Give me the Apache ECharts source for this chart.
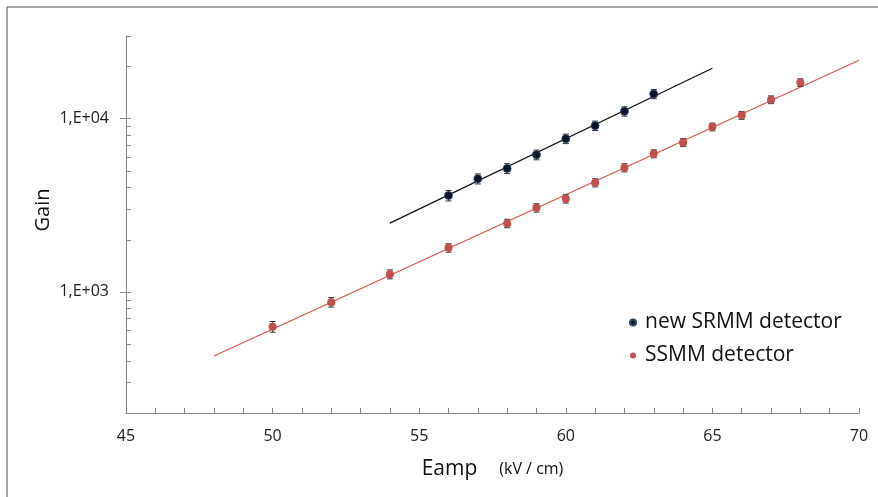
<!DOCTYPE html>
<html>
<head>
<meta charset="utf-8">
<title>Gain vs Eamp</title>
<script src="https://cdn.jsdelivr.net/npm/echarts@6/dist/echarts.min.js"></script>
<style>
  html, body { margin: 0; padding: 0; background: #fff; }
  #chart { width: 878px; height: 497px; }
</style>
</head>
<body>
<div id="chart"></div>
<script>
// field values (kV/cm) and measured gain
const srmmField = [56, 57, 58, 59, 60, 61, 62, 63];
const srmmGain = [3600, 4500, 5160, 6190, 7660, 9110, 11020, 13890];
const srmmErr = [250, 300, 340, 400, 480, 570, 680, 850];

const ssmmField = [50, 52, 54, 56, 58, 59, 60, 61, 62, 63, 64, 65, 66, 67, 68];
const ssmmGain = [630, 872, 1265, 1796, 2486, 3058, 3448, 4266, 5210, 6277, 7295, 8967, 10450, 12870, 16150];
const ssmmErr = [45, 55, 75, 100, 140, 170, 190, 230, 280, 330, 380, 460, 540, 660, 820];

// exponential fit lines (end points)
const srmmFitField = [54, 65];
const srmmFitGain = [2494, 19530];
const ssmmFitField = [48, 70];
const ssmmFitGain = [427, 21730];

// axis ticks
const yMinorTicks = [200, 300, 400, 500, 600, 700, 800, 900, 1000, 2000, 3000, 4000, 5000, 6000, 7000, 8000, 9000, 10000, 20000, 30000];
const yLabelTicks = [1000, 10000];

const FONT = '"Open Sans", "Noto Sans", sans-serif';

const chart = echarts.init(document.getElementById('chart'));

const pairs = (xs, ys) => xs.map((x, i) => [x, ys[i]]);
const errData = (xs, ys, es) => xs.map((x, i) => [x, ys[i] - es[i], ys[i] + es[i]]);

// error bar drawn through the axes
const errorBar = (params, api) => {
  const x = api.value(0);
  const lo = api.coord([x, api.value(1)]);
  const hi = api.coord([x, api.value(2)]);
  const w = 3;
  const style = { stroke: '#333', lineWidth: 1 };
  return {
    type: 'group',
    children: [
      { type: 'line', shape: { x1: lo[0], y1: lo[1], x2: hi[0], y2: hi[1] }, style },
      { type: 'line', shape: { x1: hi[0] - w, y1: hi[1], x2: hi[0] + w, y2: hi[1] }, style },
      { type: 'line', shape: { x1: lo[0] - w, y1: lo[1], x2: lo[0] + w, y2: lo[1] }, style }
    ]
  };
};

const option = {
  animation: false,
  grid: { left: 126, right: 19, top: 36, bottom: 84 },
  legend: {
    data: ['new SRMM detector', 'SSMM detector'],
    orient: 'vertical',
    left: 624,
    top: 307,
    itemGap: 12,
    itemWidth: 6,
    itemHeight: 6,
    icon: 'circle',
    textStyle: { fontFamily: FONT, fontSize: 21, color: '#111', padding: [0, 0, 0, 4] }
  },
  xAxis: {
    type: 'value',
    min: 45,
    max: 70,
    interval: 5,
    name: '{a|Eamp}{b|(kV / cm)}',
    nameLocation: 'middle',
    nameGap: 46,
    nameTextStyle: {
      rich: {
        a: { fontFamily: FONT, fontSize: 21, color: '#111' },
        b: { fontFamily: FONT, fontSize: 16, color: '#111', padding: [0, 0, 0, 22] }
      }
    },
    splitLine: { show: false },
    axisLine: { onZero: false, lineStyle: { color: '#888', width: 1 } },
    axisTick: { show: true, inside: true, length: 5, lineStyle: { color: '#888' } },
    minorTick: { show: true, splitNumber: 5, length: 5, lineStyle: { color: '#888' } },
    axisLabel: { fontFamily: FONT, fontSize: 16, color: '#222', margin: 15 }
  },
  yAxis: [
    {
      type: 'log',
      min: 200,
      max: 30000,
      splitLine: { show: false },
      axisLine: { show: true, lineStyle: { color: '#888', width: 1 } },
      axisTick: { show: true, inside: true, length: 5, customValues: yMinorTicks, lineStyle: { color: '#888' } },
      axisLabel: {
        customValues: yLabelTicks,
        fontFamily: FONT,
        fontSize: 16,
        color: '#222',
        margin: 17,
        formatter: v => '1,E+0' + Math.round(Math.log10(v))
      }
    },
    {
      type: 'log',
      position: 'left',
      min: 200,
      max: 30000,
      splitLine: { show: false },
      axisLine: { show: false },
      axisTick: { show: true, inside: false, length: 6, customValues: yLabelTicks, lineStyle: { color: '#888' } },
      axisLabel: { show: false }
    }
  ],
  graphic: [
    { type: 'line', silent: true, shape: { x1: 7, y1: 7, x2: 878, y2: 7 }, style: { stroke: '#888', lineWidth: 1.5 } },
    { type: 'line', silent: true, shape: { x1: 7, y1: 7, x2: 7, y2: 497 }, style: { stroke: '#888', lineWidth: 1.5 } },
    {
      type: 'text',
      x: 43,
      y: 210,
      rotation: Math.PI / 2,
      style: { text: 'Gain', fontFamily: FONT, fontSize: 20, fill: '#111', align: 'center', verticalAlign: 'middle' }
    }
  ],
  series: [
    {
      name: 'SSMM fit',
      type: 'line',
      data: pairs(ssmmFitField, ssmmFitGain),
      showSymbol: false,
      lineStyle: { color: '#d9534f', width: 1.2 },
      z: 1
    },
    {
      name: 'SRMM fit',
      type: 'line',
      data: pairs(srmmFitField, srmmFitGain),
      showSymbol: false,
      lineStyle: { color: '#111', width: 1.2 },
      z: 1
    },
    {
      name: 'SSMM error',
      type: 'custom',
      renderItem: errorBar,
      data: errData(ssmmField, ssmmGain, ssmmErr),
      encode: { x: 0, y: [1, 2] },
      z: 2
    },
    {
      name: 'SRMM error',
      type: 'custom',
      renderItem: errorBar,
      data: errData(srmmField, srmmGain, srmmErr),
      encode: { x: 0, y: [1, 2] },
      z: 2
    },
    {
      name: 'SSMM detector',
      type: 'scatter',
      data: pairs(ssmmField, ssmmGain),
      symbol: 'circle',
      symbolSize: 8,
      itemStyle: { color: '#c0504d', opacity: 1 },
      z: 3
    },
    {
      name: 'new SRMM detector',
      type: 'scatter',
      data: pairs(srmmField, srmmGain),
      symbol: 'circle',
      symbolSize: 8,
      itemStyle: { color: '#0b1424', borderColor: '#2a4a6a', borderWidth: 0.8, opacity: 1 },
      z: 3
    }
  ]
};

chart.setOption(option);
</script>
</body>
</html>
